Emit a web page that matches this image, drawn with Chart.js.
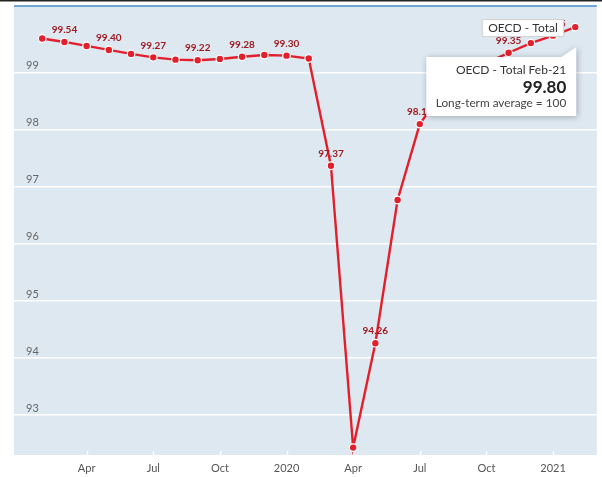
<!DOCTYPE html>
<html><head><meta charset="utf-8">
<script src="https://cdn.jsdelivr.net/npm/chart.js@4/dist/chart.umd.min.js"></script>
<style>html,body{margin:0;padding:0;background:#fff}#wrap{width:602px;height:477px;position:relative}</style>
</head><body><div id="wrap"><canvas id="c" width="602" height="477"></canvas></div>
<script>
// Month index: 0 = Jan 2019
const monthIndex = [1,2,3,4,5,6,7,8,9,10,11,12,13,14,15,16,17,18,19,20,21,22,23,24,25];
const categories = ["Feb-19","Mar-19","Apr-19","May-19","Jun-19","Jul-19","Aug-19","Sep-19","Oct-19","Nov-19","Dec-19","Jan-20","Feb-20","Mar-20","Apr-20","May-20","Jun-20","Jul-20","Aug-20","Sep-20","Oct-20","Nov-20","Dec-20","Jan-21","Feb-21"];
const values = [99.60,99.54,99.47,99.40,99.33,99.27,99.23,99.22,99.24,99.28,99.31,99.30,99.25,97.37,92.43,94.26,96.77,98.10,98.65,98.98,99.17,99.35,99.52,99.65,99.80];
const labelledIdx = [1,3,5,7,9,11,13,15,17,19,21,23];
const xTickValues = [3,6,9,12,15,18,21,24];
const xTickLabels = ["Apr","Jul","Oct","2020","Apr","Jul","Oct","2021"];
const yTickValues = [93,94,95,96,97,98,99];
const seriesName = "OECD - Total";
const tooltipNote = "Long-term average = 100";

const FONT = "Lato, 'Noto Sans', sans-serif";

const bgPlugin = {
  id: 'bg',
  beforeDraw(chart) {
    const {ctx, chartArea: a} = chart;
    ctx.save();
    ctx.fillStyle = '#dde8f1';
    ctx.fillRect(a.left, a.top, a.right - a.left, a.bottom - a.top);
    ctx.fillStyle = '#6fa6d6';
    ctx.fillRect(a.left, a.top - 1, a.right - a.left, 2);
    ctx.fillStyle = '#222';
    ctx.fillRect(0, 0, chart.width, 1.5);
    const xs = chart.scales.x;
    ctx.strokeStyle = '#ffffff';
    ctx.lineWidth = 1.5;
    xs.ticks.forEach(t => {
      const px = Math.round(xs.getPixelForValue(t.value)) + 0.5;
      ctx.beginPath();
      ctx.moveTo(px, a.bottom - 4);
      ctx.lineTo(px, a.bottom + 3);
      ctx.stroke();
    });
    ctx.restore();
  }
};

const overlayPlugin = {
  id: 'overlay',
  afterDatasetsDraw(chart) {
    const {ctx} = chart;
    const meta = chart.getDatasetMeta(0);
    ctx.save();
    ctx.font = "bold 10px " + FONT;
    ctx.fillStyle = '#9e1a20';
    ctx.textAlign = 'center';
    ctx.textBaseline = 'bottom';
    labelledIdx.forEach(i => {
      const p = meta.data[i];
      ctx.fillText(values[i].toFixed(2), p.x, p.y - 7);
    });
    ctx.restore();
  },
  afterDraw(chart) {
    const {ctx} = chart;
    const meta = chart.getDatasetMeta(0);
    const last = values.length - 1;
    const p = meta.data[last];
    ctx.save();
    // series label box
    ctx.font = "12px " + FONT;
    const tw = ctx.measureText(seriesName).width;
    const bw = tw + 12, bh = 17;
    const bx = p.x - 12 - bw, by = p.y - 8;
    ctx.fillStyle = '#ffffff';
    ctx.strokeStyle = '#cfcfcf';
    ctx.lineWidth = 1;
    ctx.beginPath();
    ctx.rect(bx + 0.5, by + 0.5, bw, bh);
    ctx.fill();
    ctx.stroke();
    ctx.fillStyle = '#333';
    ctx.textAlign = 'center';
    ctx.textBaseline = 'middle';
    ctx.fillText(seriesName, bx + bw / 2 + 0.5, by + bh / 2 + 1);

    // tooltip
    const tr = p.x + 1, tl = p.x - 149, tt = p.y + 30, tb = p.y + 89;
    ctx.save();
    ctx.shadowColor = 'rgba(0,0,0,0.28)';
    ctx.shadowBlur = 6;
    ctx.shadowOffsetX = 1;
    ctx.shadowOffsetY = 1;
    ctx.fillStyle = '#ffffff';
    ctx.beginPath();
    ctx.moveTo(tl, tt);
    ctx.lineTo(tr - 15, tt);
    ctx.lineTo(tr, tt - 10);
    ctx.lineTo(tr, tb);
    ctx.lineTo(tl, tb);
    ctx.closePath();
    ctx.fill();
    ctx.restore();
    ctx.textAlign = 'right';
    ctx.textBaseline = 'middle';
    const tx = p.x - 9;
    ctx.fillStyle = '#333';
    ctx.font = "12px " + FONT;
    ctx.fillText(seriesName + " " + categories[last], tx, p.y + 43.5);
    ctx.font = "bold 17px " + FONT;
    ctx.fillStyle = '#222';
    ctx.fillText(values[last].toFixed(2), tx, p.y + 60);
    ctx.font = "11.8px " + FONT;
    ctx.fillStyle = '#444';
    ctx.fillText(tooltipNote, tx, p.y + 76);
    ctx.restore();
  }
};

new Chart(document.getElementById('c'), {
  type: 'line',
  data: {
    datasets: [{
      label: seriesName,
      data: monthIndex.map((m, i) => ({x: m, y: values[i]})),
      borderColor: '#e2202c',
      backgroundColor: '#e2202c',
      borderWidth: 2.4,
      pointRadius: 3.8,
      pointBackgroundColor: '#e2202c',
      pointBorderColor: '#ffffff',
      pointBorderWidth: 1.2,
      tension: 0
    }]
  },
  options: {
    responsive: false,
    devicePixelRatio: 1,
    animation: false,
    layout: {padding: {left: 14, right: 5, top: 6, bottom: 0}},
    plugins: {legend: {display: false}, tooltip: {enabled: false}},
    scales: {
      x: {
        type: 'linear',
        min: -0.27, max: 25.97,
        afterBuildTicks: s => { s.ticks = xTickValues.map(v => ({value: v})); },
        afterFit: s => { s.height = 22; s.paddingLeft = 0; s.paddingRight = 0; },
        ticks: {
          callback: (v, i) => xTickLabels[i],
          color: '#555', font: {family: FONT, size: 11},
          padding: 3, maxRotation: 0, autoSkip: false
        },
        grid: {display: true, drawOnChartArea: false, drawTicks: true, tickLength: 4, color: 'rgba(0,0,0,0)'},
        border: {display: false}
      },
      y: {
        min: 92.3, max: 100.17,
        afterBuildTicks: s => { s.ticks = yTickValues.map(v => ({value: v})); },
        afterFit: s => { s.width = 0; s.paddingTop = 0; s.paddingBottom = 0; },
        ticks: {
          mirror: true, padding: 12, labelOffset: -7,
          color: '#666', font: {family: FONT, size: 11}
        },
        grid: {color: '#ffffff', lineWidth: 1.5, drawTicks: false},
        border: {display: false}
      }
    }
  },
  plugins: [bgPlugin, overlayPlugin]
});
</script></body></html>
